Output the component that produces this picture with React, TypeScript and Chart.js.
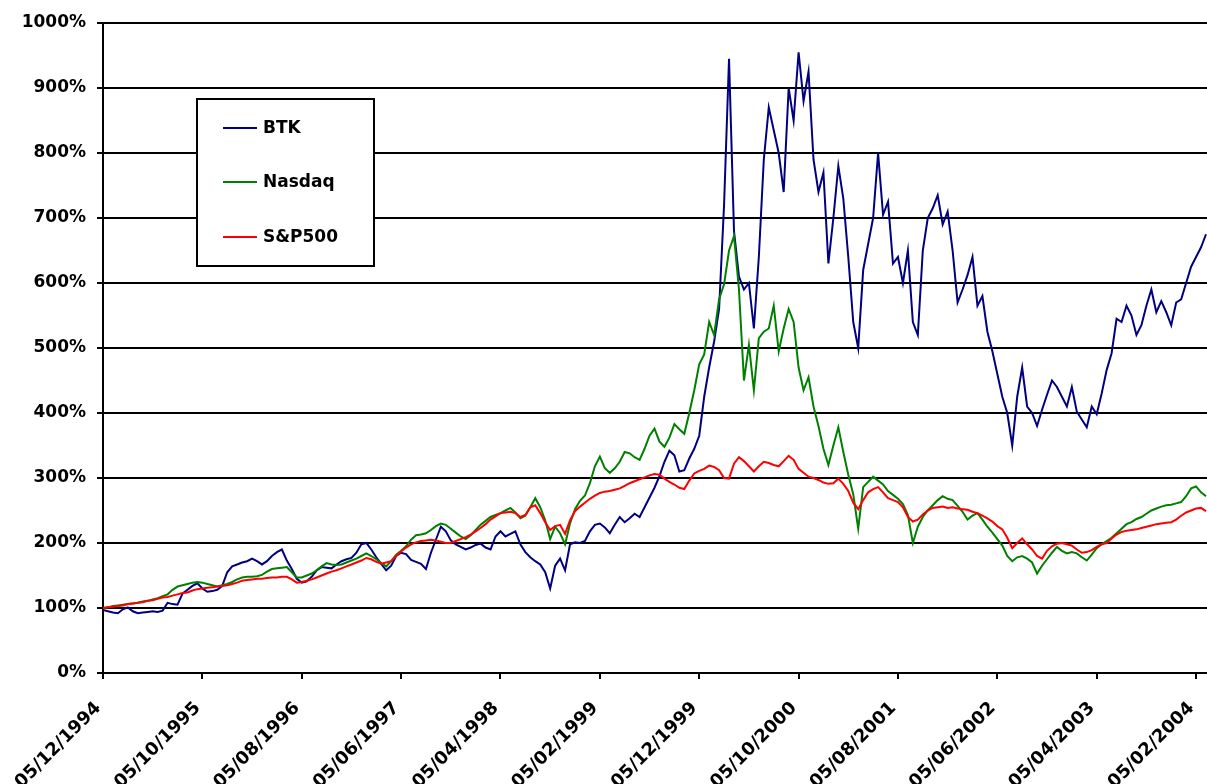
import React, { useEffect, useRef } from 'react';
import { Chart, registerables } from 'chart.js';

Chart.register(...registerables);

// Sample spacing of the series, in months after 05/12/1994
const STEP_MONTHS = 0.5;

const tickMonths = [0, 10, 20, 30, 40, 50, 60, 70, 80, 90, 100, 110];
const tickLabels = [
  '05/12/1994', '05/10/1995', '05/08/1996', '05/06/1997', '05/04/1998', '05/02/1999',
  '05/12/1999', '05/10/2000', '05/08/2001', '05/06/2002', '05/04/2003', '05/02/2004',
];

const seriesNames = ['BTK', 'Nasdaq', 'S&P500'];
const seriesColors = ['#000080', '#008000', '#FF0000'];

const btk = [
  97, 95, 93, 92, 98, 101, 95, 92, 93, 94,
  95, 94, 96, 108, 106, 105, 122, 128, 134, 138,
  130, 125, 126, 128, 134, 155, 164, 167, 170, 172,
  176, 172, 167, 172, 180, 186, 190, 173, 160, 145,
  139, 141, 148, 158, 163, 162, 161, 167, 172, 175,
  177, 185, 198, 200, 190, 178, 168, 158, 165, 180,
  185, 183, 174, 171, 168, 160, 185, 205, 225, 218,
  204, 198, 194, 190, 193, 197, 199, 193, 190, 210,
  218, 210, 214, 218, 198, 186, 178, 172, 167, 155,
  130, 165, 176, 158, 198, 201, 200, 203, 218, 228,
  230, 224, 215, 228, 240, 232, 238, 245, 240, 255,
  270, 285, 303, 325, 342, 335, 310, 312, 330, 345,
  365, 425, 470, 510, 560, 720, 945, 680, 610, 590,
  600, 530, 640, 790, 870, 835, 800, 740, 900, 850,
  955, 880, 925, 790, 740, 770, 630, 700, 780, 730,
  640, 540, 500, 620, 660, 700, 800, 705, 725, 630,
  640, 600, 650, 540, 520, 650, 700, 715, 735, 690,
  710, 650, 570, 590, 612, 640, 565, 580, 525, 495,
  460, 425, 400, 350, 425, 470, 410, 400, 380, 405,
  428, 450, 440, 425, 410, 440, 402, 390, 378, 410,
  398, 430, 466, 492, 545, 540, 565, 550, 520, 535,
  565, 590, 555, 572, 555, 535, 570, 575, 600, 625,
  640, 655, 675,
];

const nasdaq = [
  100, 101, 103, 104, 105, 106, 107, 108, 110, 111,
  113, 115, 118, 121, 128, 133, 135, 137, 139, 140,
  139, 137, 135, 133, 135, 137, 140, 144, 147, 148,
  148, 149, 151, 156, 160, 161, 162, 163, 155, 147,
  147, 150, 153, 158, 164, 169, 167, 166, 167, 170,
  173, 176, 180, 184, 180, 175, 169, 164, 172, 182,
  188, 195, 205, 212, 213, 215, 220, 226, 230, 228,
  222, 216, 210, 206, 212, 220, 228, 234, 240, 243,
  246, 250, 254, 247, 238, 242, 255, 269, 255, 235,
  206, 225, 215, 198, 230, 252, 265, 273, 292, 318,
  333, 315, 308, 315, 325, 340, 338, 332, 328, 345,
  365, 376, 356, 348, 362, 383, 375, 368, 400, 435,
  475, 490, 540, 520, 575, 598, 650, 672, 590, 450,
  505, 435, 515, 525, 530, 565, 495, 530, 560, 540,
  470, 435, 455, 410, 380, 345, 320, 350, 378, 340,
  305, 275, 222, 286, 294, 302, 296, 290, 280, 274,
  268, 260, 243, 200, 225, 240, 250, 258, 266, 272,
  268, 266, 257, 248, 236, 242, 246, 236, 225, 216,
  206, 196, 180, 172, 178, 180, 176, 170, 153, 165,
  175, 185, 194, 188, 184, 186, 184, 178, 173, 182,
  192, 198, 203, 208, 215, 222, 229, 232, 237, 240,
  245, 250, 253, 256, 258, 259, 261, 263, 272, 284,
  287, 278, 272,
];

const sp500 = [
  100, 101, 102, 103, 104, 106, 107, 108, 109, 111,
  112, 114, 116, 117, 119, 121, 123, 124, 127, 129,
  130, 131, 132, 133, 134, 135, 137, 139, 142, 143,
  144, 145, 145, 146, 147, 147, 148, 148, 144, 139,
  140, 142, 144, 147, 150, 153, 156, 158, 161, 164,
  167, 170, 173, 177, 175, 171, 168, 170, 172, 180,
  187, 193, 198, 201, 203, 204, 205, 204, 202, 200,
  200, 203, 206, 209, 213, 218, 223, 229, 236, 241,
  246, 247, 248, 246, 240, 243, 255, 258, 246, 232,
  220, 226, 228, 214, 235, 249, 256, 262, 268, 273,
  277, 279, 280, 282, 284, 288, 292, 295, 298, 301,
  304, 306, 305, 299, 294, 290, 285, 283, 296, 307,
  311, 314, 319, 317, 312, 300, 299, 322, 332, 326,
  318, 310, 318, 325, 323, 320, 318, 326, 334, 328,
  314, 308, 302, 300, 297, 293, 291, 292, 299, 291,
  280, 262, 252, 266, 278, 283, 286, 278, 269, 266,
  263, 255, 240, 233, 236, 244, 250, 254, 255, 256,
  254, 255, 253, 252, 251, 248, 246, 242, 238, 233,
  226, 221, 208, 192, 200, 207, 198, 190, 180, 176,
  188, 195, 199, 200, 198, 196, 190, 185, 186, 189,
  194, 198, 200, 207, 213, 217, 219, 220, 221, 223,
  225, 227, 229, 230, 231, 232, 236, 242, 247, 250,
  253, 254, 249,
];

const Y_MIN = 0;
const Y_MAX = 1000;
const Y_STEP = 100;
const X_MAX_MONTHS = 111.1;

const FONT_FAMILY = "'DejaVu Sans', sans-serif";
const FONT_SIZE = 17;
const X_FONT_SIZE = 18;

const toPoints = (arr: number[]) => arr.map((v, i) => ({ x: i * STEP_MONTHS, y: v }));

const customDraw = {
  id: 'customDraw',
  afterDraw(chart: any) {
    const ctx = chart.ctx as CanvasRenderingContext2D;
    const xs = chart.scales.x;
    const ca = chart.chartArea;
    ctx.save();
    ctx.font = `bold ${X_FONT_SIZE}px ${FONT_FAMILY}`;
    ctx.fillStyle = '#000';
    ctx.textAlign = 'right';
    ctx.textBaseline = 'top';
    tickMonths.forEach((m, i) => {
      const px = xs.getPixelForValue(m);
      ctx.save();
      ctx.translate(px - 11, ca.bottom + 26);
      ctx.rotate(-Math.PI / 4);
      ctx.fillText(tickLabels[i], 0, 0);
      ctx.restore();
    });

    // legend box
    ctx.font = `bold ${FONT_SIZE}px ${FONT_FAMILY}`;
    const lx = ca.left + 94;
    const ly = ca.top + 76;
    const lw = 177;
    const lh = 167;
    ctx.fillStyle = '#fff';
    ctx.fillRect(lx, ly, lw, lh);
    ctx.strokeStyle = '#000';
    ctx.lineWidth = 2;
    ctx.strokeRect(lx, ly, lw, lh);
    const rowY = [29, 83, 138];
    ctx.textAlign = 'left';
    ctx.textBaseline = 'middle';
    seriesNames.forEach((name, i) => {
      const y = ly + rowY[i];
      ctx.strokeStyle = seriesColors[i];
      ctx.lineWidth = 2;
      ctx.beginPath();
      ctx.moveTo(lx + 26, y);
      ctx.lineTo(lx + 60, y);
      ctx.stroke();
      ctx.fillStyle = '#000';
      ctx.fillText(name, lx + 66, y + 1);
    });
    ctx.restore();
  },
};

export default function App() {
  const canvasRef = useRef<HTMLCanvasElement | null>(null);

  useEffect(() => {
    if (!canvasRef.current) return;
    const series = [btk, nasdaq, sp500];
    const chart = new Chart(canvasRef.current, {
      type: 'line',
      data: {
        datasets: series.map((arr, i) => ({
          label: seriesNames[i],
          data: toPoints(arr),
          borderColor: seriesColors[i],
          backgroundColor: seriesColors[i],
          borderWidth: 2,
          pointRadius: 0,
          tension: 0,
          fill: false,
          order: 2 - i,
        })),
      },
      options: {
        responsive: false,
        animation: false,
        devicePixelRatio: 1,
        layout: { padding: { top: 23, right: 0, bottom: 0, left: 0 } },
        plugins: {
          legend: { display: false },
          tooltip: { enabled: false },
        },
        scales: {
          x: {
            type: 'linear',
            min: 0,
            max: X_MAX_MONTHS,
            afterBuildTicks: (scale: any) => {
              scale.ticks = tickMonths.map((v) => ({ value: v }));
            },
            afterFit: (scale: any) => {
              scale.height = 111;
              scale.paddingLeft = 0;
              scale.paddingRight = 0;
            },
            ticks: { display: false },
            grid: {
              display: true,
              drawOnChartArea: false,
              drawTicks: true,
              tickLength: 6,
              color: '#000',
              lineWidth: 2,
            },
            border: { display: true, color: '#000', width: 2 },
          },
          y: {
            type: 'linear',
            min: Y_MIN,
            max: Y_MAX,
            afterFit: (scale: any) => {
              scale.width = 103;
              scale.paddingTop = 0;
              scale.paddingBottom = 0;
            },
            ticks: {
              stepSize: Y_STEP,
              padding: 11,
              color: '#000',
              font: { family: FONT_FAMILY, size: FONT_SIZE, weight: 'bold' },
              callback: (v: any) => `${v}%`,
            },
            grid: {
              color: '#000',
              lineWidth: 2,
              tickLength: 6,
              drawTicks: true,
            },
            border: { display: true, color: '#000', width: 2 },
          },
        },
      },
      plugins: [customDraw],
    });
    return () => chart.destroy();
  }, []);

  return (
    <div style={{ position: 'fixed', left: 0, top: 0, width: 1207, height: 784, background: '#fff', overflow: 'hidden' }}>
      <canvas ref={canvasRef} width={1207} height={784} style={{ display: 'block' }} />
    </div>
  );
}
